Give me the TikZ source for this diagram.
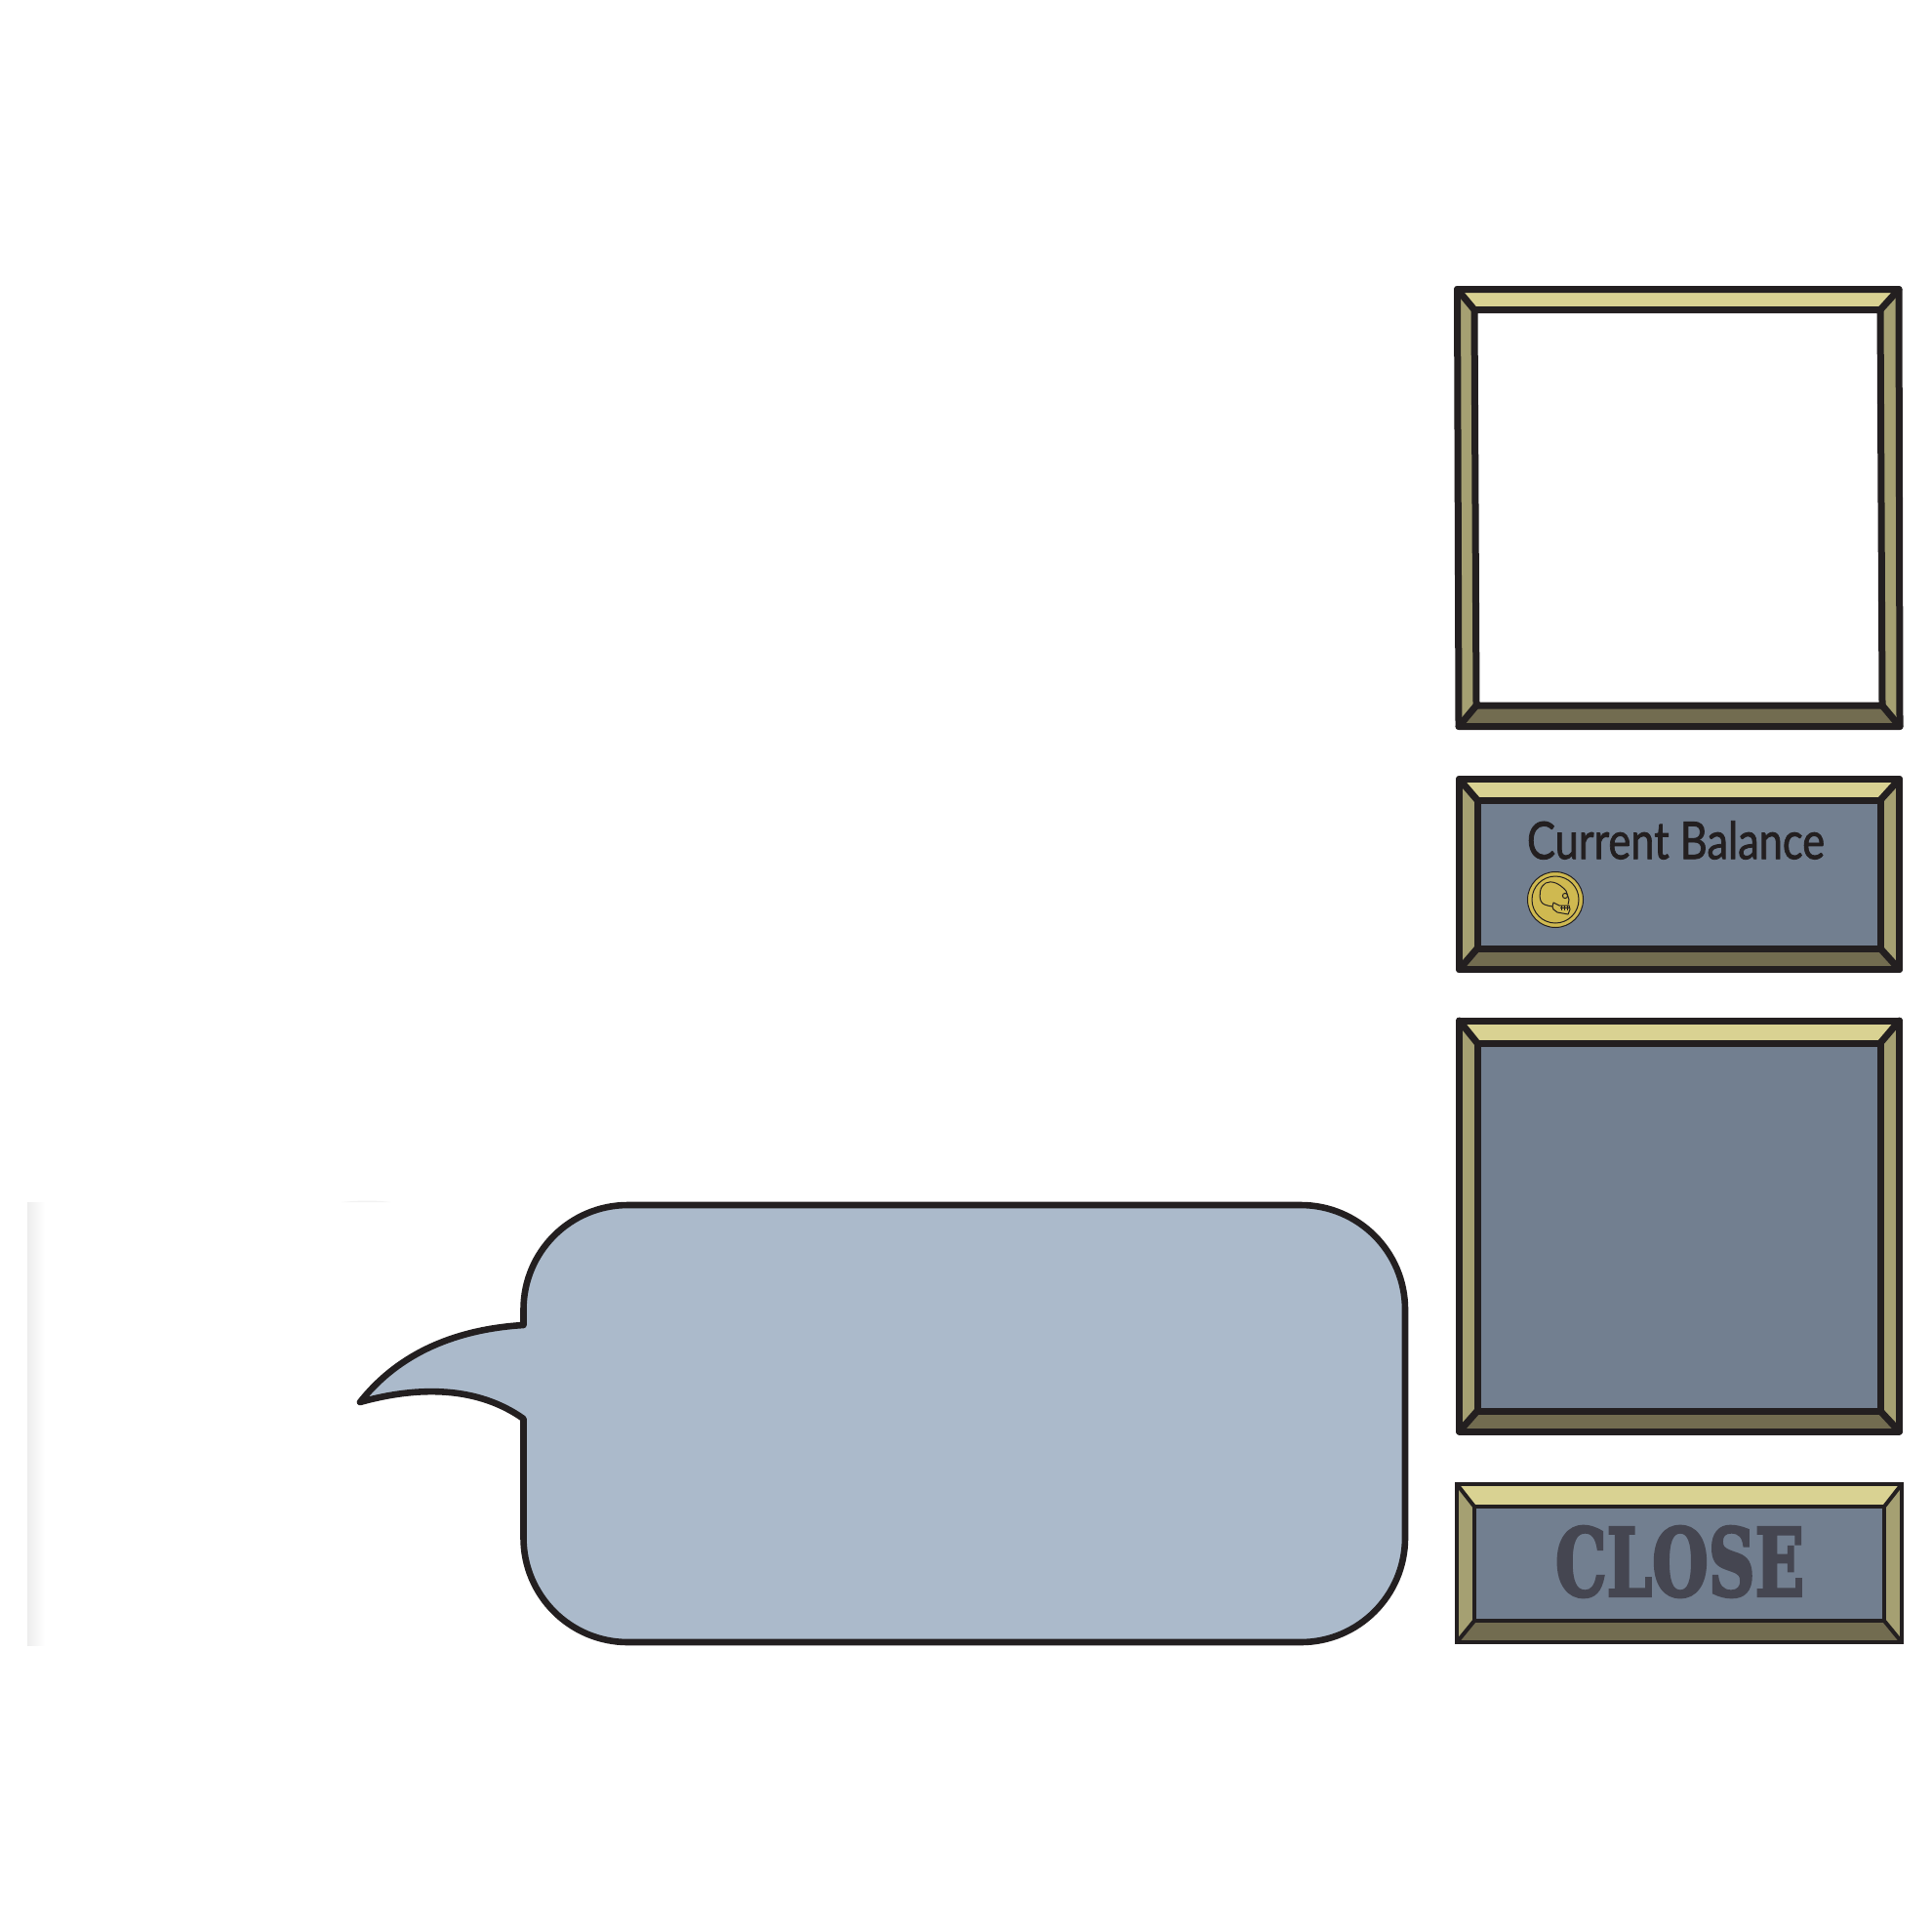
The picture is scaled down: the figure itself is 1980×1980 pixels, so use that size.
\documentclass[tikz,border=0pt]{standalone}
\usepackage{graphicx}
\usepackage{fontspec}
\setmainfont[Ligatures=TeX]{Lato}
\newfontfamily\balancefont[FakeBold=1.6]{Lato}
\newfontfamily\closefont[FakeBold=3.5]{DejaVu Serif Bold}
\definecolor{ink}{HTML}{231F20}
\definecolor{bevtop}{HTML}{D9D292}
\definecolor{bevside}{HTML}{A5A072}
\definecolor{bevbot}{HTML}{726C50}
\definecolor{panelc}{HTML}{727F90}
\definecolor{bubblec}{HTML}{ABBACB}
\definecolor{coinc}{HTML}{CFB950}
\definecolor{closec}{HTML}{454651}
\tikzset{
  x=0.05cm,y=-0.05cm,
  heavy/.style={line width=0.35cm,draw=ink,line join=round,line cap=round},
  thinframe/.style={line width=0.2cm,draw=ink,line join=miter},
  bubbleline/.style={line width=0.33cm,draw=ink,fill=bubblec,line join=round},
  coinline/.style={line width=0.05cm,draw=ink},
  label/.style={inner sep=0pt,outer sep=0pt},
}
% uses coordinates o1..o4 (outer, clockwise from top left) and i1..i4 (inner)
\newcommand{\bevelframe}[2]{%
  \fill[bevtop] (o1) -- (o2) -- (i2) -- (i1) -- cycle;
  \fill[bevside] (o2) -- (o3) -- (i3) -- (i2) -- cycle;
  \fill[bevbot] (o3) -- (o4) -- (i4) -- (i3) -- cycle;
  \fill[bevside] (o4) -- (o1) -- (i1) -- (i4) -- cycle;
  \fill[#1] (i1) -- (i2) -- (i3) -- (i4) -- cycle;
  \draw[#2] (o1) -- (o2) -- (o3) -- (o4) -- cycle;
  \draw[#2] (i1) -- (i2) -- (i3) -- (i4) -- cycle;
  \draw[#2] (o1) -- (i1) (o2) -- (i2) (o3) -- (i3) (o4) -- (i4);
}
\begin{document}
\begin{tikzpicture}
\useasboundingbox (0,0) rectangle (1980,1980);
\fill[white] (0,0) rectangle (1980,1980);
% faint ghost edge at the left
\shade[left color=black!7,right color=white] (28,1232) rectangle (46,1686);
\fill[black!5] (350,1232) .. controls (370,1230) and (385,1230) .. (400,1232) -- cycle;

% frame 1
\coordinate (o1) at (1493.5,296.5);
\coordinate (o2) at (1946,296.5);
\coordinate (o3) at (1947,744.5);
\coordinate (o4) at (1495,744.5);
\coordinate (i1) at (1511,317.5);
\coordinate (i2) at (1927,317.5);
\coordinate (i3) at (1929,723);
\coordinate (i4) at (1513,723);
\bevelframe{white}{heavy}

% frame 2
\coordinate (o1) at (1495.5,798.5);
\coordinate (o2) at (1946.5,798.5);
\coordinate (o3) at (1946.5,993.5);
\coordinate (o4) at (1495.5,993.5);
\coordinate (i1) at (1514,820);
\coordinate (i2) at (1927,820);
\coordinate (i3) at (1927,972);
\coordinate (i4) at (1514,972);
\bevelframe{panelc}{heavy}
\node[label] (balance) at (1717.5,861) {\resizebox{15.25cm}{1.95cm}{\balancefont\color{ink}Current Balance}};

% coin
\coordinate (coinc) at (1594,922);
\fill[coinc,draw=ink,line width=0.05cm] (coinc) circle (28.5);
\draw[coinline] (coinc) circle (24);
\draw[coinline,line join=round] (1605,913) .. controls (1598,905) and (1590,902) .. (1584,905)
  .. controls (1578,908) and (1577,918) .. (1579,923)
  .. controls (1580,927) and (1585,928) .. (1591,929)
  -- (1592,925) -- (1598,928) -- (1608,928) -- (1609,932) -- (1607,937)
  -- (1596,935) -- (1592,932) -- (1591,929);
\draw[coinline] (1605,913) -- (1608,922) -- (1607,927);
\draw[coinline] (1604,918) circle (2.6);
\draw[coinline] (1599,930) -- (1608,930);
\draw[coinline] (1600,928) -- (1600,933) (1603,928) -- (1603,933) (1606,928) -- (1606,933);

% frame 3
\coordinate (o1) at (1495.5,1046);
\coordinate (o2) at (1946.5,1046);
\coordinate (o3) at (1946.5,1467);
\coordinate (o4) at (1495.5,1467);
\coordinate (i1) at (1514,1069);
\coordinate (i2) at (1927,1069);
\coordinate (i3) at (1927,1446);
\coordinate (i4) at (1514,1446);
\bevelframe{panelc}{heavy}

% close button
\coordinate (o1) at (1493,1521);
\coordinate (o2) at (1949,1521);
\coordinate (o3) at (1949,1683);
\coordinate (o4) at (1493,1683);
\coordinate (i1) at (1511,1544);
\coordinate (i2) at (1931,1544);
\coordinate (i3) at (1931,1661);
\coordinate (i4) at (1511,1661);
\bevelframe{panelc}{thinframe}
\node[label] (close) at (1721.5,1600.5) {\resizebox{12.75cm}{3.55cm}{\closefont\color{closec}CLOSE}};

% speech bubble
\coordinate (tip) at (369,1437);
\draw[bubbleline] (536.5,1358) -- (536.5,1342)
  arc[start angle=180,end angle=270,radius=107] -- (1333,1235)
  arc[start angle=270,end angle=360,radius=107] -- (1440,1576)
  arc[start angle=0,end angle=90,radius=107] -- (643.5,1683)
  arc[start angle=90,end angle=180,radius=107] -- (536.5,1454)
  .. controls (490,1421) and (430,1420) .. (tip)
  .. controls (410,1385) and (470,1362) .. cycle;
\end{tikzpicture}
\end{document}
